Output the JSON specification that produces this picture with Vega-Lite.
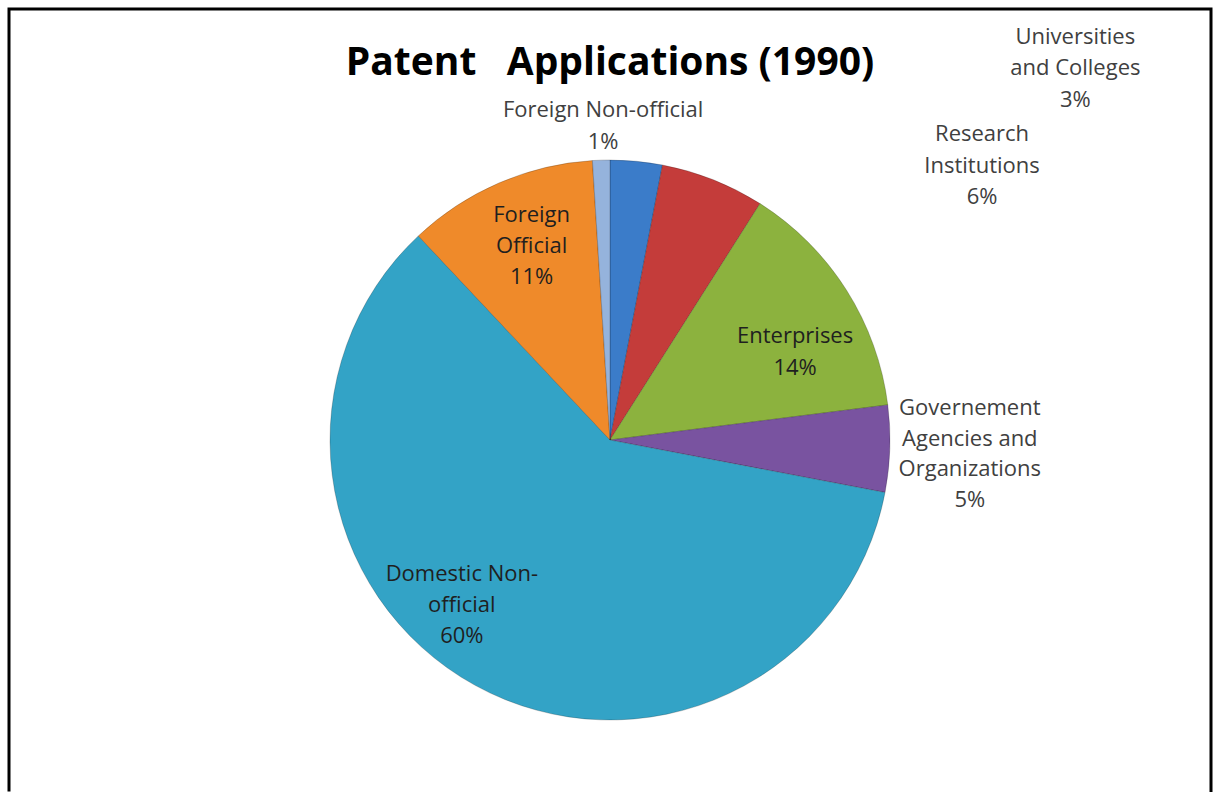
{
  "$schema": "https://vega.github.io/schema/vega-lite/v6.json",
  "autosize": "none",
  "width": 1202,
  "height": 783,
  "padding": {"left": 9, "top": 9, "right": 3, "bottom": 0},
  "background": "white",
  "title": {
    "text": "Patent\u00a0\u00a0 Applications (1990)",
    "font": "Open Sans",
    "fontSize": 39,
    "fontWeight": "bold",
    "color": "#000000",
    "anchor": "middle",
    "baseline": "alphabetic",
    "offset": -106
  },
  "data": {
    "values": [
      {"category": "Universities and Colleges", "value": 3, "rank": 1, "label": "Universities\nand Colleges\n3%"},
      {"category": "Research Institutions", "value": 6, "rank": 2, "label": "Research\nInstitutions\n6%"},
      {"category": "Enterprises", "value": 14, "rank": 3, "label": "Enterprises\n14%"},
      {"category": "Governement Agencies and Organizations", "value": 5, "rank": 4, "label": "Governement\nAgencies and\nOrganizations\n5%"},
      {"category": "Domestic Non-official", "value": 60, "rank": 5, "label": "Domestic Non-\nofficial\n60%"},
      {"category": "Foreign Official", "value": 11, "rank": 6, "label": "Foreign\nOfficial\n11%"},
      {"category": "Foreign Non-official", "value": 1, "rank": 7, "label": "Foreign Non-official\n1%"}
    ]
  },
  "layer": [
    {
      "mark": {"type": "arc", "radius": 280, "yOffset": 39.5, "stroke": "#000000", "strokeOpacity": 0.2, "strokeWidth": 1},
      "encoding": {
        "theta": {"field": "value", "type": "quantitative", "stack": true},
        "order": {"field": "rank", "type": "quantitative", "sort": "ascending"},
        "color": {
          "field": "category",
          "type": "nominal",
          "legend": null,
          "scale": {
            "domain": ["Universities and Colleges", "Research Institutions", "Enterprises", "Governement Agencies and Organizations", "Domestic Non-official", "Foreign Official", "Foreign Non-official"],
            "range": ["#3b7cc9", "#c43c3a", "#8cb23e", "#7953a0", "#33a3c6", "#ef8a2a", "#95b3dc"]
          }
        }
      }
    },
    {
      "mark": {"type": "text", "radius": 280, "yOffset": 39.5, "dx": 439, "dy": -124.5, "font": "Open Sans", "fontSize": 22, "lineHeight": 31.5, "lineBreak": "\n", "color": "#404040", "align": "center", "baseline": "middle"},
      "encoding": {
        "theta": {"field": "value", "type": "quantitative", "stack": true},
        "order": {"field": "rank", "type": "quantitative", "sort": "ascending"},
        "text": {"condition": {"test": "datum.category === 'Universities and Colleges'", "field": "label"}, "value": ""}
      }
    },
    {
      "mark": {"type": "text", "radius": 280, "yOffset": 39.5, "dx": 269, "dy": -45.5, "font": "Open Sans", "fontSize": 22, "lineHeight": 31.5, "lineBreak": "\n", "color": "#404040", "align": "center", "baseline": "middle"},
      "encoding": {
        "theta": {"field": "value", "type": "quantitative", "stack": true},
        "order": {"field": "rank", "type": "quantitative", "sort": "ascending"},
        "text": {"condition": {"test": "datum.category === 'Research Institutions'", "field": "label"}, "value": ""}
      }
    },
    {
      "mark": {"type": "text", "radius": 205, "yOffset": 39.5, "dx": 12, "dy": 6, "font": "Open Sans", "fontSize": 22, "lineHeight": 31.5, "lineBreak": "\n", "color": "#1f1f1f", "align": "center", "baseline": "middle"},
      "encoding": {
        "theta": {"field": "value", "type": "quantitative", "stack": true},
        "order": {"field": "rank", "type": "quantitative", "sort": "ascending"},
        "text": {"condition": {"test": "datum.category === 'Enterprises'", "field": "label"}, "value": ""}
      }
    },
    {
      "mark": {"type": "text", "radius": 360, "yOffset": 39.5, "dy": -43, "font": "Open Sans", "fontSize": 22, "lineHeight": 30.5, "lineBreak": "\n", "color": "#404040", "align": "center", "baseline": "middle"},
      "encoding": {
        "theta": {"field": "value", "type": "quantitative", "stack": true},
        "order": {"field": "rank", "type": "quantitative", "sort": "ascending"},
        "text": {"condition": {"test": "datum.category === 'Governement Agencies and Organizations'", "field": "label"}, "value": ""}
      }
    },
    {
      "mark": {"type": "text", "radius": 210, "yOffset": 39.5, "dx": -47, "dy": -50, "font": "Open Sans", "fontSize": 22, "lineHeight": 31, "lineBreak": "\n", "color": "#1f1f1f", "align": "center", "baseline": "middle"},
      "encoding": {
        "theta": {"field": "value", "type": "quantitative", "stack": true},
        "order": {"field": "rank", "type": "quantitative", "sort": "ascending"},
        "text": {"condition": {"test": "datum.category === 'Domestic Non-official'", "field": "label"}, "value": ""}
      }
    },
    {
      "mark": {"type": "text", "radius": 210, "yOffset": 39.5, "dx": 5, "dy": -32, "font": "Open Sans", "fontSize": 22, "lineHeight": 31, "lineBreak": "\n", "color": "#1f1f1f", "align": "center", "baseline": "middle"},
      "encoding": {
        "theta": {"field": "value", "type": "quantitative", "stack": true},
        "order": {"field": "rank", "type": "quantitative", "sort": "ascending"},
        "text": {"condition": {"test": "datum.category === 'Foreign Official'", "field": "label"}, "value": ""}
      }
    },
    {
      "mark": {"type": "text", "radius": 314, "yOffset": 39.5, "dx": 3, "dy": -16, "font": "Open Sans", "fontSize": 22, "lineHeight": 32, "lineBreak": "\n", "color": "#404040", "align": "center", "baseline": "middle"},
      "encoding": {
        "theta": {"field": "value", "type": "quantitative", "stack": true},
        "order": {"field": "rank", "type": "quantitative", "sort": "ascending"},
        "text": {"condition": {"test": "datum.category === 'Foreign Non-official'", "field": "label"}, "value": ""}
      }
    },
    {
      "transform": [{"filter": "datum.rank === 1"}],
      "mark": {"type": "rect", "filled": false, "stroke": "#000000", "strokeWidth": 3, "strokeDash": [1986.5, 1201, 784, 1]},
      "encoding": {}
    }
  ]
}
